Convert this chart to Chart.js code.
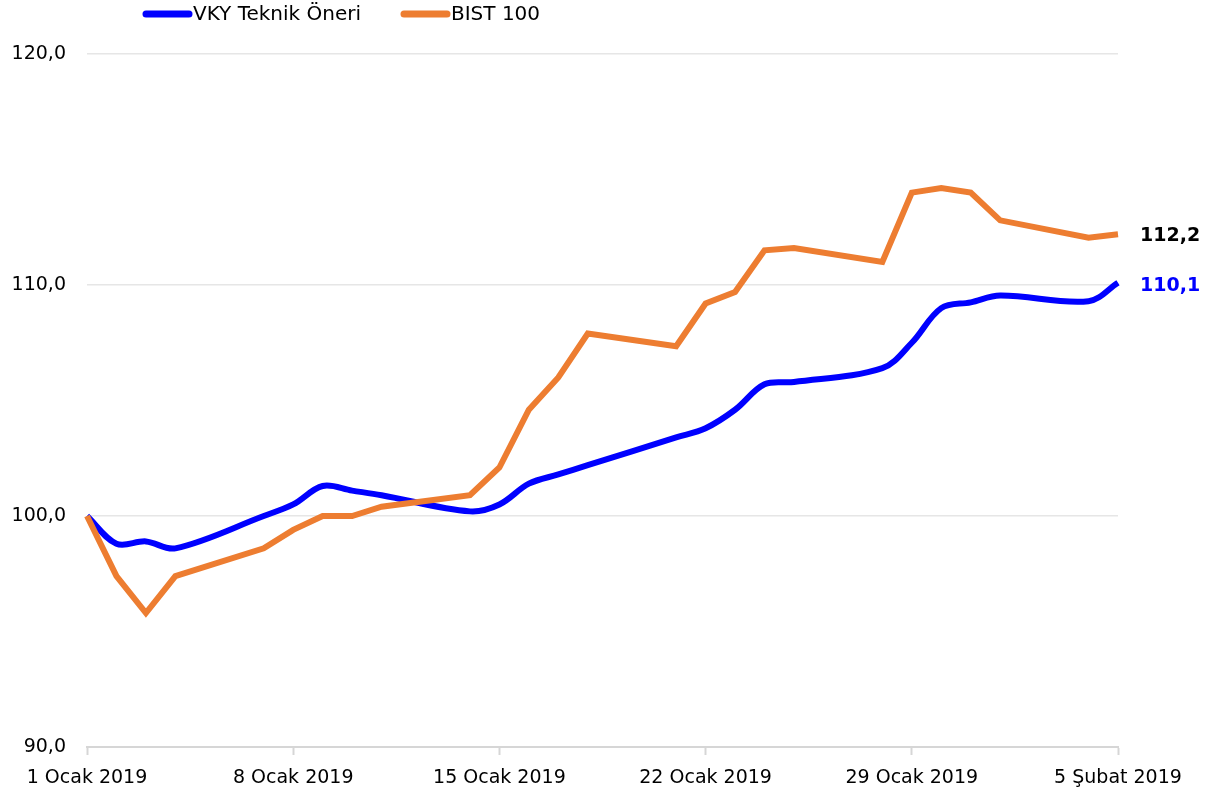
<!DOCTYPE html>
<html>
<head>
<meta charset="utf-8">
<script src="https://cdn.jsdelivr.net/npm/chart.js@4.4.1/dist/chart.umd.min.js"></script>
<style>
  html, body { margin: 0; padding: 0; background: #fff; }
</style>
</head>
<body>
<canvas id="chart" width="1220" height="799"></canvas>
<script>
// days counted from 1 Ocak 2019 (business days only)
const dayOffsets = [0, 1, 2, 3, 6, 7, 8, 9, 10, 13, 14, 15, 16, 17, 20, 21, 22, 23, 24, 27, 28, 29, 30, 31, 34, 35];
const vkyValues  = [100.0, 98.8, 98.9, 98.6, 100.0, 100.5, 101.3, 101.1, 100.9, 100.2, 100.5, 101.4, 101.8, 102.2,
                    103.4, 103.8, 104.6, 105.7, 105.8, 106.4, 107.5, 109.0, 109.25, 109.55, 109.3, 110.1];
const bistValues = [100.0, 97.4, 95.8, 97.4, 98.6, 99.4, 100.0, 100.0, 100.4, 100.9, 102.1, 104.6, 106.0, 107.9,
                    107.35, 109.2, 109.7, 111.5, 111.6, 111.0, 114.0, 114.2, 114.0, 112.8, 112.05, 112.2];
const seriesNames = ['VKY Teknik Öneri', 'BIST 100'];
const tickDays = [0, 7, 14, 21, 28, 35];
const tickLabels = ['1 Ocak 2019', '8 Ocak 2019', '15 Ocak 2019', '22 Ocak 2019', '29 Ocak 2019', '5 Şubat 2019'];
const yTicks = [90, 100, 110, 120];

const BLUE = '#0000ff';
const ORANGE = '#ed7d31';
const FONT = '"DejaVu Sans", Tahoma, sans-serif';

const toPoints = vals => vals.map((v, i) => ({ x: dayOffsets[i], y: v }));
const fmt = v => v.toFixed(1).replace('.', ',');

// legend on top + value labels at the end of each line
const overlay = {
  id: 'overlay',
  afterDraw(chart) {
    const ctx = chart.ctx;
    const area = chart.chartArea;
    const y = chart.scales.y;
    ctx.save();

    const items = [
      { name: seriesNames[0], color: BLUE, x: 142 },
      { name: seriesNames[1], color: ORANGE, x: 400 }
    ];
    ctx.font = '20px ' + FONT;
    ctx.textBaseline = 'middle';
    items.forEach(it => {
      ctx.strokeStyle = it.color;
      ctx.lineWidth = 7;
      ctx.lineCap = 'round';
      ctx.beginPath();
      ctx.moveTo(it.x + 4, 14);
      ctx.lineTo(it.x + 47, 14);
      ctx.stroke();
      ctx.fillStyle = '#000';
      ctx.fillText(it.name, it.x + 51, 15);
    });

    ctx.font = 'bold 19px ' + FONT;
    const lastB = bistValues[bistValues.length - 1];
    const lastV = vkyValues[vkyValues.length - 1];
    ctx.fillStyle = '#000';
    ctx.fillText(fmt(lastB), area.right + 22, y.getPixelForValue(lastB) + 2);
    ctx.fillStyle = BLUE;
    ctx.fillText(fmt(lastV), area.right + 22, y.getPixelForValue(lastV) + 3);
    ctx.restore();
  }
};

new Chart(document.getElementById('chart'), {
  type: 'line',
  data: {
    datasets: [
      {
        label: seriesNames[0],
        data: toPoints(vkyValues),
        borderColor: BLUE,
        borderWidth: 6,
        tension: 0.35,
        pointRadius: 0,
        clip: false,
        order: 1
      },
      {
        label: seriesNames[1],
        data: toPoints(bistValues),
        borderColor: ORANGE,
        borderWidth: 6,
        tension: 0,
        pointRadius: 0,
        borderJoinStyle: 'miter',
        clip: false,
        order: 0
      }
    ]
  },
  options: {
    responsive: false,
    animation: false,
    devicePixelRatio: 1,
    layout: { padding: { top: 54, right: 102, bottom: 0, left: 0 } },
    plugins: {
      legend: { display: false },
      tooltip: { enabled: false }
    },
    scales: {
      x: {
        type: 'linear',
        min: 0,
        max: 35,
        afterBuildTicks: s => { s.ticks = tickDays.map(v => ({ value: v })); },
        afterFit: s => { s.height = 52; },
        ticks: {
          autoSkip: false,
          maxRotation: 0,
          padding: 12,
          color: '#000',
          font: { family: FONT, size: 19 },
          callback: v => tickLabels[tickDays.indexOf(v)]
        },
        grid: {
          drawOnChartArea: false,
          drawTicks: true,
          tickLength: 8,
          tickColor: '#d6d6d6',
          tickWidth: 2
        },
        border: { display: true, color: '#d6d6d6', width: 2 }
      },
      y: {
        min: 90,
        max: 120,
        afterBuildTicks: s => { s.ticks = yTicks.map(v => ({ value: v })); },
        afterFit: s => { s.width = 87; },
        ticks: {
          padding: 21,
          color: '#000',
          font: { family: FONT, size: 19 },
          callback: v => fmt(v)
        },
        grid: { color: '#e6e6e6', lineWidth: 1.5, drawTicks: false },
        border: { display: false }
      }
    }
  },
  plugins: [overlay]
});
</script>
</body>
</html>
